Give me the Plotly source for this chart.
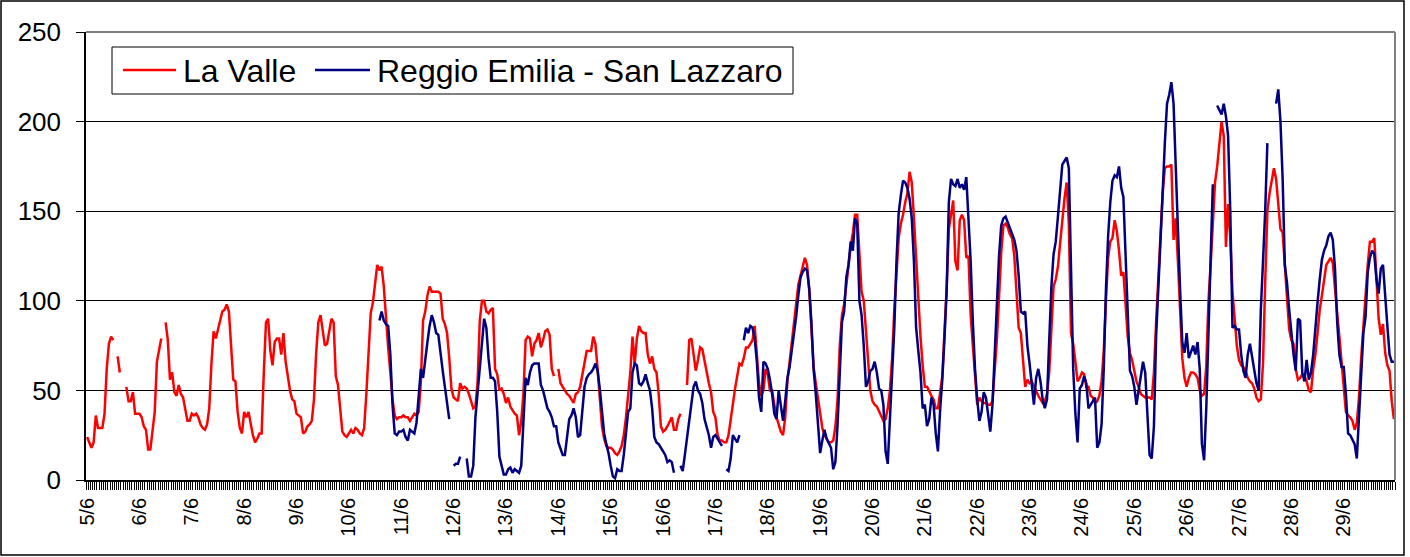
import plotly.graph_objects as go

N = None

day_labels = ["5/6", "6/6", "7/6", "8/6", "9/6", "10/6", "11/6", "12/6", "13/6",
              "14/6", "15/6", "16/6", "17/6", "18/6", "19/6", "20/6", "21/6",
              "22/6", "23/6", "24/6", "25/6", "26/6", "27/6", "28/6", "29/6"]
HOURS_PER_DAY = 24

# hourly values, one row per day
la_valle = [
    24, 21, 18, 21, 36, 29, 29, 29, 37, 62, 76, 80, 78, N, 69, 60, N, N, 52, 44, 44, 49, 37, 37,
    37, 35, 30, 28, 17, 17, 27, 38, 66, 72, 79, N, 88, 78, 56, 60, 49, 47, 53, 48, 46, 40, 33, 33,
    37, 36, 37, 35, 31, 29, 28, 31, 40, 65, 83, 79, 84, 90, 94, 95, 98, 94, 74, 56, 55, 38, 29, 26,
    38, 35, 38, 31, 25, 21, 23, 26, 26, 60, 88, 90, 72, 64, 77, 79, 79, 70, 82, 66, 57, 50, 45, 44,
    37, 36, 35, 26, 27, 30, 31, 33, 45, 71, 88, 92, 82, 75, 76, 82, 90, 88, 58, 53, 40, 27, 25, 24,
    26, 28, 26, 29, 28, 26, 25, 29, 48, 74, 93, 99, 108, 120, 117, 119, 108, 88, 74, 60, 45, 36, 34, 35,
    35, 36, 35, 35, 33, 35, 37, 36, 38, 55, 89, 94, 103, 108, 105, 105, 105, 105, 104, 90, 87, 82, 68, 51,
    46, 45, 44, 54, 51, 52, 51, 48, 44, 40, 41, 55, 89, 100, 100, 94, 93, 95, 96, 62, 59, 50, 51, 48,
    43, 46, 41, 39, 37, 36, 25, 33, 48, 78, 80, 79, 69, 76, 78, 82, 74, 78, 83, 84, 81, 62, 58, N,
    62, 54, 52, 50, 48, 47, 45, 43, 48, 49, 52, 58, 65, 72, 72, 72, 80, 76, 62, 43, 30, 23, 19, 18,
    18, 17, 15, 14, 16, 19, 25, 35, 48, 60, 80, 65, 79, 86, 83, 82, 82, 70, 65, 69, 62, 60, 48, 30,
    27, 28, 30, 33, 35, 28, 28, 34, 37, N, N, 53, 78, 79, 71, 61, 67, 74, 73, 66, 60, 54, 49, 38,
    35, 25, 22, 22, 21, 21, 25, 34, 44, 51, 58, 65, 64, 68, 74, 74, 76, 78, 86, 68, 54, 47, 50, 62,
    59, 50, 50, 42, 35, 31, 27, 25, 35, 55, 66, 78, 88, 100, 109, 114, 120, 124, 120, 106, 85, 63, 54, 46,
    36, 29, 25, 23, 21, 21, 22, 30, 45, 75, 92, 98, 110, 122, 130, 138, 148, 148, 128, 105, 100, 84, 65, 50,
    44, 42, 41, 38, 35, 33, 34, 40, 50, 68, 95, 118, 135, 143, 148, 155, 160, 172, 166, 146, 124, 98, 80, 64,
    52, 52, 49, 47, 45, 40, 40, 48, 58, 83, 107, 140, 148, 156, 122, 117, 145, 148, 145, 124, 125, 92, 75, 56,
    42, 46, 44, 43, 43, 42, 42, 44, 59, 78, 102, 127, 142, 143, 141, 137, 135, 125, 105, 85, 82, 64, 52, 56,
    54, 55, 52, 50, 47, 45, 43, 44, 48, 60, 84, 108, 112, 119, 132, 145, 157, 166, 143, 82, 76, 66, 55, 57,
    60, 59, 52, 52, 47, 46, 43, 44, 47, 55, 72, 100, 124, 133, 135, 145, 139, 128, 114, 116, 100, 80, 71, 67,
    61, 55, 52, 48, 47, 46, 46, 46, 45, 60, 88, 112, 138, 160, 174, 175, 175, 176, 134, 146, 122, 91, 68, 57,
    52, 57, 60, 60, 59, 57, 50, 47, 48, 64, 100, 120, 145, 166, 175, 188, 200, 192, 130, 154, 135, 105, 90, 75,
    67, 64, 63, 61, 57, 55, 54, 51, 46, 44, 45, 65, 110, 150, 160, 166, 174, 168, 152, 140, 138, 120, 103, 84,
    78, 76, 62, 56, 57, 59, 58, 55, 50, 49, 62, 70, 82, 95, 103, 112, 120, 122, 124, 121, 105, 93, 80, 65,
    50, 38, 36, 35, 33, 28, 32, 46, 68, 86, 98, 120, 133, 133, 135, 110, 90, 81, 87, 71, 64, 61, 44, 34,
]

reggio_san_lazzaro = [
    N, N, N, N, N, N, N, N, N, N, N, N, N, N, N, N, N, N, N, N, N, N, N, N,
    N, N, N, N, N, N, N, N, N, N, N, N, N, N, N, N, N, N, N, N, N, N, N, N,
    N, N, N, N, N, N, N, N, N, N, N, N, N, N, N, N, N, N, N, N, N, N, N, N,
    N, N, N, N, N, N, N, N, N, N, N, N, N, N, N, N, N, N, N, N, N, N, N, N,
    N, N, N, N, N, N, N, N, N, N, N, N, N, N, N, N, N, N, N, N, N, N, N, N,
    N, N, N, N, N, N, N, N, N, N, N, N, N, N, 89, 94, 89, 87, 86, 70, 42, 26, 25, 27,
    27, 28, 24, 22, 28, 27, 26, 32, 50, 62, 57, 68, 77, 86, 92, 88, 82, 81, 70, 61, 52, 44, 34, N,
    8, 9, 9, 13, N, N, 12, 2, 2, 8, 35, 48, 62, 78, 90, 85, 68, 57, 57, 55, 38, 13, 8, 3,
    3, 6, 7, 4, 6, 5, 4, 8, 33, 57, 53, 60, 64, 65, 65, 65, 53, 50, 45, 40, 38, 35, 30, 30,
    21, 17, 14, 14, 25, 34, 36, 40, 35, 24, 25, 40, 52, 57, 59, 60, 62, 65, 61, 51, 40, 26, 20, 15,
    8, 2, 1, 6, 5, 5, 14, 27, 38, 40, 60, 65, 64, 54, 53, 55, 59, 54, 50, 40, 24, 21, 20, 18,
    16, 14, 10, 11, 10, 4, N, N, 8, 5, 14, 24, 34, 43, 52, 55, 50, 48, 43, 34, 30, 25, 18, 24,
    25, 23, 21, 19, N, 6, 5, 12, 25, 23, 21, 25, N, 78, 85, 82, 86, 85, 79, 66, 46, 38, 66, 65,
    62, 56, 48, 37, 34, 50, 42, 33, 44, 57, 63, 72, 82, 91, 103, 113, 116, 118, 117, 107, 88, 62, 48, 30,
    15, 22, 28, 23, 20, 18, 6, 10, 31, 60, 88, 94, 113, 120, 133, 128, 146, 143, 100, 92, 75, 52, 55, 61,
    62, 66, 60, 51, 50, 42, 16, 9, 32, 58, 85, 122, 149, 159, 167, 166, 163, 157, 146, 122, 85, 72, 60, 40,
    42, 30, 34, 46, 42, 26, 16, 39, 56, 79, 106, 155, 168, 165, 164, 168, 163, 165, 162, 169, 145, 122, 88, 62,
    45, 33, 38, 49, 46, 35, 27, 42, 68, 100, 125, 142, 146, 147, 144, 141, 138, 134, 128, 114, 94, 93, 94, 75,
    65, 52, 42, 57, 62, 55, 45, 40, 45, 78, 108, 126, 133, 147, 162, 176, 178, 180, 174, 124, 62, 37, 21, 51,
    53, 58, 54, 40, 42, 44, 46, 18, 21, 31, 62, 106, 136, 155, 167, 170, 169, 175, 163, 158, 126, 88, 61, 58,
    52, 42, 51, 58, 66, 60, 40, 14, 12, 30, 80, 104, 128, 160, 188, 210, 215, 222, 210, 180, 140, 106, 77, 71,
    82, 68, 72, 75, 70, 77, 62, 20, 11, 40, 82, 122, 165, N, 209, 206, 204, 210, 203, 192, 150, 85, 86, 84,
    84, 70, 61, 57, 70, 76, 68, 62, 54, 50, 95, 122, 150, 188, N, N, N, 210, 218, 200, 168, 120, 110, 95,
    80, 70, 61, 90, 89, 60, 55, 67, 56, 60, 70, 87, 99, 112, 123, 128, 131, 136, 138, 134, 118, 88, 70, 63,
    63, 48, 26, 25, 22, 20, 12, 33, 57, 82, 91, 116, 124, 128, 126, 112, 104, 118, 120, 101, 86, 70, 66, 66,
]

series_names = ["La Valle", "Reggio Emilia - San Lazzaro"]
series_colors = ["#FF0000", "#000080"]

# ---------------------------------------------------------------
W, H = 1410, 557
L, R, T, B = 86, 1395, 32, 480          # plot area in pixels
FONT = "Arial, 'Liberation Sans', sans-serif"


def px_x(p):
    return (p - L) / (R - L)


def px_y(p):
    return (B - p) / (B - T)


n = len(la_valle)
hours = list(range(n))

fig = go.Figure()
for name, vals, col in zip(series_names, [la_valle, reggio_san_lazzaro], series_colors):
    fig.add_trace(go.Scatter(x=hours, y=vals, mode="lines", name=name,
                             line=dict(color=col, width=2.5), connectgaps=False,
                             showlegend=False))

tickvals = [i * HOURS_PER_DAY for i in range(len(day_labels))]
minor_vals = [i - 0.5 for i in range(n + 1)]

fig.update_layout(
    width=W, height=H,
    margin=dict(l=L, r=W - R, t=T, b=H - B, pad=0, autoexpand=False),
    paper_bgcolor="white", plot_bgcolor="white",
    font=dict(family=FONT, color="black"),
    xaxis=dict(range=[-0.5, n - 0.5], tickmode="array", tickvals=tickvals,
               ticktext=day_labels, tickangle=-90, ticks="", showgrid=False,
               zeroline=False, showline=True, linecolor="black", linewidth=1.5,
               tickfont=dict(size=20, family=FONT), ticklabelstandoff=8,
               minor=dict(tickmode="array", tickvals=minor_vals, ticks="outside",
                          ticklen=8, tickcolor="#000000", tickwidth=1, showgrid=False)),
    yaxis=dict(range=[0, 250], tickmode="linear", tick0=0, dtick=50,
               ticks="outside", ticklen=8, tickcolor="black", tickwidth=1,
               showgrid=True, gridcolor="black", gridwidth=1, zeroline=False,
               showline=True, linecolor="black", linewidth=1.5,
               tickfont=dict(size=26, family=FONT), ticklabelstandoff=10),
)

shapes = [
    # plot area border (top / right, grey)
    dict(type="line", xref="paper", yref="paper", x0=0, x1=1, y0=1, y1=1,
         line=dict(color="#808080", width=2), layer="above"),
    dict(type="line", xref="paper", yref="paper", x0=1, x1=1, y0=0, y1=1,
         line=dict(color="#808080", width=2), layer="above"),
    # outer chart frame
    dict(type="rect", xref="paper", yref="paper", x0=px_x(1), x1=px_x(1404),
         y0=px_y(555), y1=px_y(1), line=dict(color="black", width=1.5)),
    # legend box
    dict(type="rect", xref="paper", yref="paper", x0=px_x(112), x1=px_x(793),
         y0=px_y(94), y1=px_y(47), line=dict(color="black", width=1),
         fillcolor="white", layer="above"),
    dict(type="line", xref="paper", yref="paper", x0=px_x(123), x1=px_x(176),
         y0=px_y(70), y1=px_y(70), line=dict(color=series_colors[0], width=2.5),
         layer="above"),
    dict(type="line", xref="paper", yref="paper", x0=px_x(315), x1=px_x(370),
         y0=px_y(70), y1=px_y(70), line=dict(color=series_colors[1], width=2.5),
         layer="above"),
]
annotations = [
    dict(xref="paper", yref="paper", x=px_x(181), y=px_y(71), text=series_names[0],
         showarrow=False, xanchor="left", yanchor="middle",
         font=dict(size=32, family=FONT, color="black")),
    dict(xref="paper", yref="paper", x=px_x(375), y=px_y(71), text=series_names[1],
         showarrow=False, xanchor="left", yanchor="middle",
         font=dict(size=32, family=FONT, color="black")),
]
fig.update_layout(shapes=shapes, annotations=annotations)

fig.write_html("out.html", config={"displayModeBar": False},
               post_script="document.body.style.margin='0';")
